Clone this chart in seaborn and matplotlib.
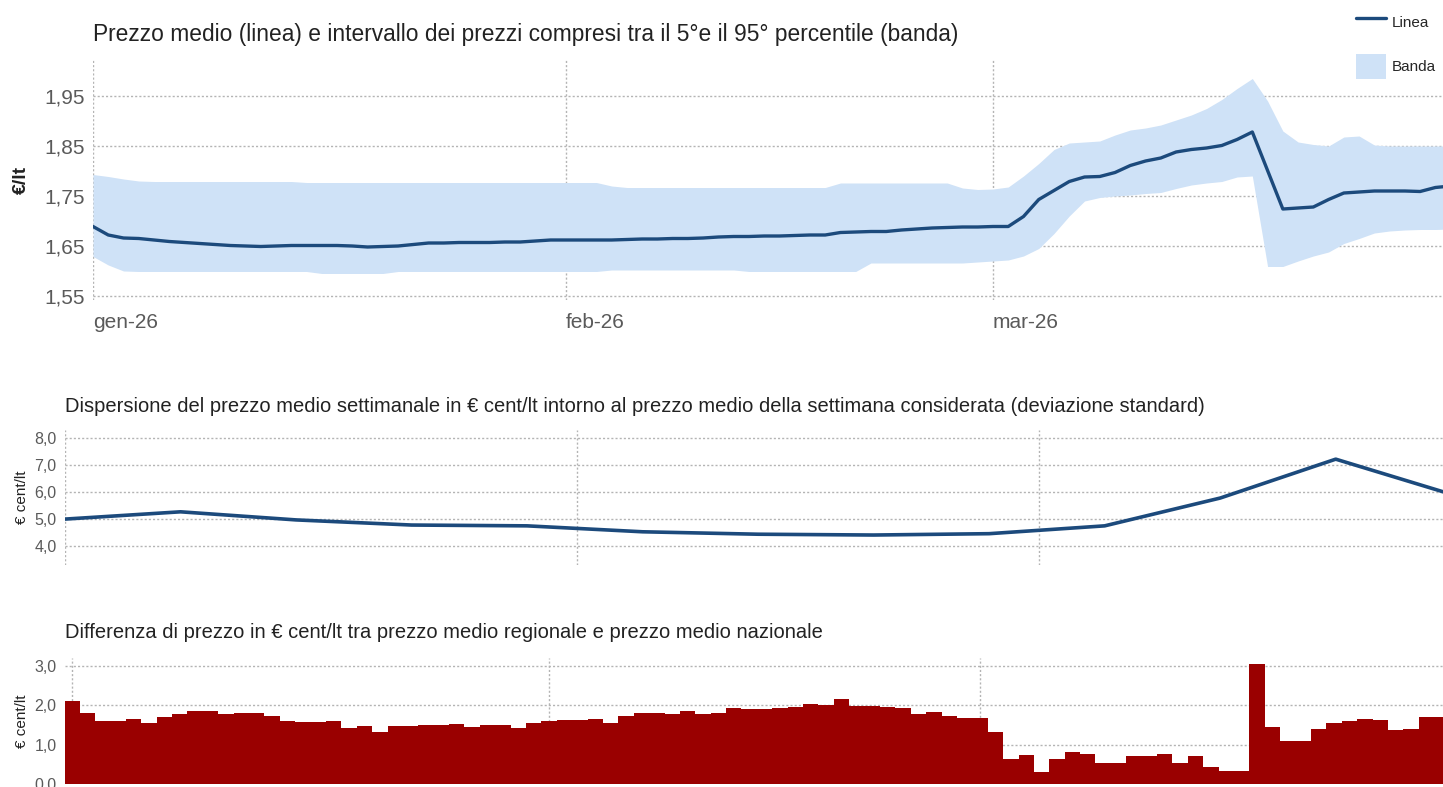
import numpy as np
import pandas as pd
import seaborn as sns
import matplotlib.pyplot as plt
from matplotlib.lines import Line2D
from matplotlib.patches import Patch

# --- data (day 0 = 1 Jan 2026) ---

# top panel: daily mean price and 5th-95th percentile band (EUR/lt)
mean_price = [
    1.689, 1.672, 1.666, 1.665, 1.662, 1.659, 1.657, 1.655, 1.653, 1.651,
    1.650, 1.649, 1.650, 1.651, 1.651, 1.651, 1.651, 1.650, 1.648, 1.649,
    1.650, 1.653, 1.656, 1.656, 1.657, 1.657, 1.657, 1.658, 1.658, 1.660,
    1.662, 1.662, 1.662, 1.662, 1.662, 1.663, 1.664, 1.664, 1.665, 1.665,
    1.666, 1.668, 1.669, 1.669, 1.670, 1.670, 1.671, 1.672, 1.672, 1.677,
    1.678, 1.679, 1.679, 1.682, 1.684, 1.686, 1.687, 1.688, 1.688, 1.689,
    1.689, 1.709, 1.743, 1.761, 1.779, 1.788, 1.789, 1.797, 1.811, 1.820,
    1.826, 1.838, 1.843, 1.846, 1.851, 1.863, 1.878, 1.801, 1.724, 1.726,
    1.728, 1.743, 1.756, 1.758, 1.760, 1.760, 1.760, 1.759, 1.767, 1.770,
]
band_high = [
    1.793, 1.789, 1.784, 1.780, 1.779, 1.779, 1.779, 1.779, 1.779, 1.779,
    1.779, 1.779, 1.779, 1.779, 1.777, 1.777, 1.777, 1.777, 1.777, 1.777,
    1.777, 1.777, 1.777, 1.777, 1.777, 1.777, 1.777, 1.777, 1.777, 1.777,
    1.777, 1.777, 1.777, 1.777, 1.770, 1.767, 1.767, 1.767, 1.767, 1.767,
    1.767, 1.767, 1.767, 1.767, 1.767, 1.767, 1.767, 1.767, 1.767, 1.776,
    1.776, 1.776, 1.776, 1.776, 1.776, 1.776, 1.776, 1.766, 1.763, 1.764,
    1.768, 1.790, 1.815, 1.843, 1.856, 1.858, 1.860, 1.872, 1.882, 1.886,
    1.892, 1.902, 1.912, 1.925, 1.943, 1.965, 1.985, 1.940, 1.880, 1.858,
    1.853, 1.850, 1.868, 1.870, 1.852, 1.850, 1.850, 1.850, 1.850, 1.850,
]
band_low = [
    1.629, 1.612, 1.600, 1.599, 1.599, 1.599, 1.599, 1.599, 1.599, 1.599,
    1.599, 1.599, 1.599, 1.599, 1.599, 1.595, 1.595, 1.595, 1.595, 1.595,
    1.599, 1.599, 1.599, 1.599, 1.599, 1.599, 1.599, 1.599, 1.599, 1.599,
    1.599, 1.599, 1.599, 1.599, 1.602, 1.602, 1.602, 1.602, 1.602, 1.602,
    1.602, 1.602, 1.602, 1.599, 1.599, 1.599, 1.599, 1.599, 1.599, 1.599,
    1.599, 1.616, 1.616, 1.616, 1.616, 1.616, 1.616, 1.616, 1.618, 1.620,
    1.622, 1.630, 1.645, 1.675, 1.710, 1.740, 1.747, 1.750, 1.752, 1.755,
    1.757, 1.765, 1.772, 1.776, 1.779, 1.788, 1.790, 1.609, 1.609, 1.620,
    1.630, 1.638, 1.655, 1.665, 1.676, 1.680, 1.682, 1.683, 1.683, 1.684,
]

# middle panel: weekly standard deviation (EUR cent/lt), one point every 7 days
week_day = [0, 7, 14, 21, 28, 35, 42, 49, 56, 63, 70, 77, 84]
std_dev = [5.00, 5.27, 4.97, 4.78, 4.75, 4.53, 4.44, 4.41, 4.46, 4.75, 5.78, 7.22, 5.92]

# bottom panel: daily regional minus national price (EUR cent/lt)
price_diff = [
    2.11, 1.80, 1.60, 1.60, 1.64, 1.55, 1.69, 1.76, 1.84, 1.86,
    1.77, 1.80, 1.79, 1.72, 1.60, 1.56, 1.56, 1.59, 1.42, 1.46,
    1.32, 1.47, 1.48, 1.49, 1.50, 1.52, 1.44, 1.50, 1.50, 1.41,
    1.55, 1.60, 1.61, 1.63, 1.65, 1.55, 1.72, 1.80, 1.80, 1.76,
    1.86, 1.76, 1.80, 1.93, 1.91, 1.91, 1.92, 1.96, 2.03, 2.01,
    2.15, 1.98, 1.97, 1.94, 1.92, 1.77, 1.82, 1.73, 1.68, 1.68,
    1.32, 0.64, 0.74, 0.31, 0.63, 0.81, 0.77, 0.52, 0.52, 0.72,
    0.70, 0.75, 0.53, 0.70, 0.43, 0.33, 0.34, 3.03, 1.44, 1.09,
    1.10, 1.38, 1.55, 1.60, 1.65, 1.61, 1.36, 1.38, 1.70, 1.69,
]

month_start = [0, 31, 59]
month_labels = ["gen-26", "feb-26", "mar-26"]

LINE_COL = "#1c4a7c"
BAND_COL = "#cfe2f7"
BAR_COL = "#9a0000"
GRID_COL = "#b4b4b4"
TICK_COL = "#5a5a5a"

sns.set_theme(style="white")
plt.rcParams["font.family"] = ["Liberation Sans", "DejaVu Sans"]

W, H = 1443, 787
fig = plt.figure(figsize=(W / 100, H / 100), dpi=100)


def px_axes(left, top, right, bottom):
    return fig.add_axes([left / W, 1 - bottom / H, (right - left) / W, (bottom - top) / H])


def style_axes(ax, yticks, ylabels, fs):
    ax.set_yticks(yticks)
    ax.set_yticklabels(ylabels)
    ax.tick_params(axis="y", length=0, labelsize=fs, labelcolor=TICK_COL, pad=6)
    ax.tick_params(axis="x", length=0)
    ax.grid(True, color=GRID_COL, linestyle=(0, (1.5, 1.5)), linewidth=1)
    for s in ax.spines.values():
        s.set_visible(False)
    ax.set_xlabel("")


# ---------------- top panel ----------------
top = pd.DataFrame({"day": np.arange(len(mean_price)), "mean": mean_price,
                    "low": band_low, "high": band_high})
ax1 = px_axes(93, 60, W, 300)
ax1.fill_between(top["day"], top["low"], top["high"], color=BAND_COL, linewidth=0)
sns.lineplot(data=top, x="day", y="mean", ax=ax1, color=LINE_COL, linewidth=2.4)
ax1.set_xlim(0, 88.5)
ax1.set_ylim(1.542, 2.022)
style_axes(ax1, [1.55, 1.65, 1.75, 1.85, 1.95], ["1,55", "1,65", "1,75", "1,85", "1,95"], 15)
ax1.set_xticks(month_start)
ax1.set_xticklabels(month_labels, ha="left", fontsize=15, color=TICK_COL)
ax1.tick_params(axis="x", pad=9)
ax1.set_ylabel("€/lt", fontsize=14, fontweight="bold", color="#222222", labelpad=10)
fig.text(93 / W, 1 - 35 / H, "Prezzo medio (linea) e intervallo dei prezzi compresi tra il 5°e il 95° percentile (banda)",
         fontsize=16.4, color="#222222", va="center", ha="left")

handles = [Line2D([0], [0], color=LINE_COL, linewidth=2.4),
           Patch(facecolor=BAND_COL, edgecolor="none")]
fig.legend(handles, ["Linea", "Banda"], loc="upper left", bbox_to_anchor=(1345 / W, 1 + 1 / H),
           frameon=False, fontsize=11, handlelength=2.0, handleheight=2.1, labelspacing=1.3,
           handletextpad=0.35, borderpad=0.2)

# ---------------- middle panel ----------------
mid = pd.DataFrame({"day": week_day, "std": std_dev})
ax2 = px_axes(65, 430, W, 565)
sns.lineplot(data=mid, x="day", y="std", ax=ax2, color=LINE_COL, linewidth=2.6)
ax2.set_xlim(0, 83.5)
ax2.set_ylim(3.3, 8.3)
style_axes(ax2, [4, 5, 6, 7, 8], ["4,0", "5,0", "6,0", "7,0", "8,0"], 11.5)
ax2.set_xticks(month_start)
ax2.set_xticklabels([])
ax2.set_ylabel("€ cent/lt", fontsize=11, color="#222222", labelpad=4)
fig.text(65 / W, 1 - 407 / H,
         "Dispersione del prezzo medio settimanale in € cent/lt intorno al prezzo medio della settimana considerata (deviazione standard)",
         fontsize=14.5, color="#222222", va="center", ha="left")

# ---------------- bottom panel ----------------
bot = pd.DataFrame({"day": np.arange(len(price_diff)), "diff": price_diff})
ax3 = px_axes(65, 658, W, 784)
sns.barplot(data=bot, x="day", y="diff", ax=ax3, color=BAR_COL, width=1.0,
            saturation=1, linewidth=0, native_scale=True)
ax3.set_xlim(-0.455, 89.08)
ax3.set_ylim(0, 3.19)
style_axes(ax3, [0, 1, 2, 3], ["0,0", "1,0", "2,0", "3,0"], 11.5)
ax3.set_axisbelow(True)
ax3.set_xticks(month_start)
ax3.set_xticklabels([])
ax3.set_ylabel("€ cent/lt", fontsize=11, color="#222222", labelpad=4)
fig.text(65 / W, 1 - 632 / H,
         "Differenza di prezzo in € cent/lt tra prezzo medio regionale e prezzo medio nazionale",
         fontsize=14.5, color="#222222", va="center", ha="left")

fig.savefig("out.png", dpi=100)
